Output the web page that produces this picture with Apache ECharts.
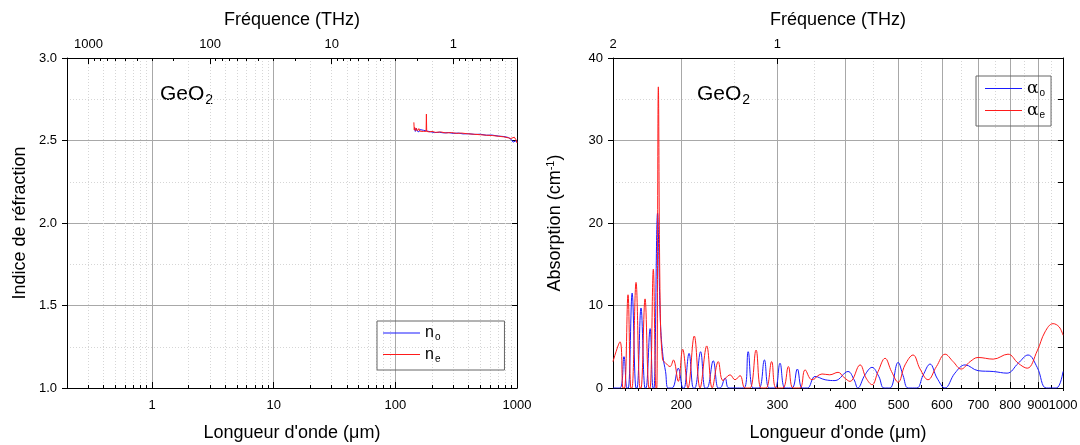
<!DOCTYPE html>
<html><head><meta charset="utf-8">
<script src="https://cdn.jsdelivr.net/npm/echarts@6/dist/echarts.min.js"></script>
<style>html,body{margin:0;padding:0;background:#fff}#c{width:1080px;height:445px}</style>
</head><body><div id="c"></div>
<script>
// ---------- data: refractive index (left panel) ----------
const lamNo = [144, 146, 148, 150, 153, 156, 160, 165, 170, 175, 180, 185, 195, 210, 230, 250, 275, 300, 330, 360, 400, 450, 500, 560, 620, 700, 780, 850, 900, 930, 960, 990, 1000];
const nO    = [2.57, 2.555, 2.575, 2.56, 2.568, 2.552, 2.566, 2.555, 2.562, 2.552, 2.558, 2.55, 2.553, 2.548, 2.55, 2.546, 2.548, 2.543, 2.545, 2.54, 2.541, 2.537, 2.538, 2.532, 2.533, 2.527, 2.524, 2.518, 2.505, 2.49, 2.485, 2.5, 2.49];
const lamNe = [142, 143, 144, 146, 149, 152, 156, 160, 165, 170, 175, 179, 180, 181, 185, 190, 200, 215, 235, 260, 290, 320, 350, 390, 440, 500, 560, 630, 700, 780, 850, 890, 920, 950, 980, 1000];
const nE    = [2.61, 2.565, 2.58, 2.56, 2.575, 2.558, 2.572, 2.556, 2.568, 2.555, 2.563, 2.556, 2.66, 2.555, 2.56, 2.552, 2.555, 2.549, 2.552, 2.546, 2.548, 2.543, 2.545, 2.541, 2.538, 2.535, 2.532, 2.53, 2.526, 2.522, 2.516, 2.512, 2.51, 2.52, 2.505, 2.485];

// ---------- data: absorption (right panel) ----------
const lamAo  = [150, 154.5, 157.1, 159.1, 160, 162.6, 165.3, 166, 168.8, 171.7, 172.4, 175.4, 177.6, 178.3, 181, 183.2, 185.2, 187.2, 189.2, 192.5, 197.5, 201.5, 202.4, 206.7, 210.5, 211.8, 217, 221.1, 223, 228.9, 233.6, 235.6, 240.7, 244.5, 260.6, 265.2, 270.7, 277.7, 284, 289.6, 297, 303.3, 309.8, 319, 326.3, 332.9, 340.5, 351.6, 366.8, 382.5, 404, 414.5, 421, 434, 447, 460, 470, 482, 499, 509.6, 520.5, 540, 554, 571, 588, 608, 634, 662, 699, 745, 790, 828, 863, 897, 932, 972, 1000];
const alphaO = [0, 0, 3.8, 0, 0, 11.5, 0, 0, 9.7, 0, 0, 7.2, 0, 0, 21.2, 8, 3.8, 2.0, 0, 0, 2.4, 0, 0, 4.2, 0, 0, 4.4, 0, 0, 3.3, 0, 0, 1.2, 0, 0, 4.4, 0, 0, 3.4, 0, 0, 3.0, 0, 0, 2.3, 0, 0, 1.4, 1.0, 0.9, 2.0, 1.0, 0, 1.6, 2.5, 1.4, 0, 0, 3.1, 1.5, 0, 0, 1.5, 2.9, 1.2, 0, 1.8, 2.8, 2.1, 2.0, 1.8, 3.0, 4.0, 2.5, 0, 0, 2.0];
const lamAe  = [150, 154.5, 156.5, 157.5, 159.8, 161.8, 162.5, 165.3, 168.1, 168.8, 171.7, 174.6, 175.4, 177.8, 179.8, 180.4, 181.6, 183, 184.8, 186.8, 190.8, 193.5, 197.5, 201.2, 205.8, 211.3, 216.5, 222.7, 227.9, 233.8, 238.5, 245.7, 250.9, 256.3, 261.7, 267.3, 274.2, 280, 286, 292.8, 298.3, 307, 314.2, 320.4, 330, 337.1, 347, 362, 374, 387.4, 397, 407.5, 425.1, 436, 447.2, 458.6, 472.3, 485.3, 499, 513.8, 531.5, 547.4, 566, 586.5, 608.3, 629.2, 650.8, 676, 699, 745, 793, 828, 860, 897, 927, 959, 984, 1000];
const alphaE = [3.2, 5.6, 0, 0, 11.3, 0, 0, 12.8, 0, 0, 10.8, 0, 0, 14.4, 0, 0, 36.5, 10, 3.5, 3.1, 2.6, 3.4, 0.8, 4.7, 0, 6.3, 0, 5.1, 0, 3.2, 0.9, 1.6, 1.0, 1.5, 0, 0, 4.6, 0, 0, 3.2, 0, 0, 2.6, 0, 0, 2.2, 1.0, 1.7, 1.6, 1.9, 1.3, 0.8, 2.8, 1.2, 0.4, 2.0, 3.6, 2.0, 0.7, 2.8, 4.0, 2.3, 1.0, 2.6, 4.1, 3.2, 2.3, 3.2, 3.7, 3.5, 4.1, 3.0, 2.4, 4.5, 6.8, 7.8, 7.4, 6.4];

// ---------- tick values ----------
const waveMajorL = [1, 10, 100, 1000];
const waveMinorL = [0.3, 0.4, 0.5, 0.6, 0.7, 0.8, 0.9, 2, 3, 4, 5, 6, 7, 8, 9, 20, 30, 40, 50, 60, 70, 80, 90, 200, 300, 400, 500, 600, 700, 800, 900];
const freqMajorL = [1, 10, 100, 1000];
const freqMinorL = [0.3, 0.4, 0.5, 0.6, 0.7, 0.8, 0.9, 2, 3, 4, 5, 6, 7, 8, 9, 20, 30, 40, 50, 60, 70, 80, 90, 200, 300, 400, 500, 600, 700, 800, 900];
const waveMajorR = [200, 300, 400, 500, 600, 700, 800, 900, 1000];
const waveLabelsR = [200, 300, 400, 500, 600, 700, 800, 900];
const waveEndLabelR = [1000];
const waveMinorR = [250, 350, 450, 550, 650, 750, 850, 950];
const freqMajorR = [2, 1];
const freqMinorR = [1.9, 1.8, 1.7, 1.6, 1.5, 1.4, 1.3, 1.2, 1.1, 0.9, 0.8, 0.7, 0.6, 0.5, 0.4, 0.3];

const FONT = 'Liberation Sans, Arial, sans-serif';
const MAJ = '#a8a8a8';
const MIN = '#d6d6d6';
const lbl = {fontSize: 13, color: '#000', fontFamily: FONT};
const nameStyle = {fontSize: 18, color: '#000', fontFamily: FONT};
const blackLine = {show: true, onZero: false, lineStyle: {color: '#000', width: 1}};

function pairs(xs, ys) { return xs.map((x, i) => [x, ys[i]]); }

function logAxis(grid, pos, min, max, major, minor, labels, subLabels, extra) {
  const margin = pos === 'top' ? 7 : 11;
  const main = Object.assign({
    gridIndex: grid, type: 'log', logBase: 10, min: min, max: max, position: pos,
    axisLine: blackLine,
    axisTick: {show: true, inside: true, length: 6, customValues: major, lineStyle: {color: '#000'}},
    axisLabel: Object.assign({show: true, customValues: labels, formatter: v => String(v),
      margin: margin, showMinLabel: true, showMaxLabel: true, hideOverlap: false}, lbl),
    splitLine: {show: false}
  }, extra || {});
  const sub = {
    gridIndex: grid, type: 'log', logBase: 10, min: min, max: max, position: pos,
    inverse: !!(extra && extra.inverse),
    axisLine: {show: false},
    axisTick: {show: true, inside: true, length: 3, customValues: minor, lineStyle: {color: '#000'}},
    axisLabel: subLabels ? Object.assign({show: true, customValues: subLabels, formatter: v => String(v),
      margin: margin, showMinLabel: true, showMaxLabel: true}, lbl) : {show: false},
    splitLine: {show: pos === 'bottom', lineStyle: {color: MIN, width: 1, type: [1, 2]}}
  };
  return [main, sub];
}

const xAxes = [].concat(
  logAxis(0, 'bottom', 0.2, 1000, waveMajorL, waveMinorL, waveMajorL, null, {
    name: "Longueur d'onde (\u03bcm)", nameLocation: 'middle', nameGap: 36, nameTextStyle: nameStyle,
    splitLine: {show: true, lineStyle: {color: MAJ, width: 1}}
  }),
  logAxis(0, 'top', 0.3, 1500, freqMajorL, freqMinorL, freqMajorL, null, {
    inverse: true, name: 'Fréquence (THz)', nameLocation: 'middle', nameGap: 29, nameTextStyle: nameStyle
  }),
  logAxis(1, 'bottom', 150, 1000, waveMajorR, waveMinorR, waveLabelsR, waveEndLabelR, {
    name: "Longueur d'onde (\u03bcm)", nameLocation: 'middle', nameGap: 36, nameTextStyle: nameStyle,
    splitLine: {show: true, lineStyle: {color: MAJ, width: 1}}
  }),
  logAxis(1, 'top', 0.3, 2, freqMajorR, freqMinorR, freqMajorR, null, {
    inverse: true, name: 'Fréquence (THz)', nameLocation: 'middle', nameGap: 29, nameTextStyle: nameStyle
  })
);

const yAxes = [
  {gridIndex: 0, type: 'value', min: 1, max: 3, interval: 0.5, position: 'left',
   name: 'Indice de réfraction', nameLocation: 'middle', nameGap: 38, nameTextStyle: nameStyle,
   axisLine: blackLine, axisTick: {show: true, inside: false, length: 5, lineStyle: {color: '#000'}},
   axisLabel: Object.assign({formatter: v => v.toFixed(1), margin: 10}, lbl),
   splitLine: {show: true, lineStyle: {color: MAJ, width: 1}},
   minorTick: {show: false, splitNumber: 2},
   minorSplitLine: {show: true, lineStyle: {color: MIN, width: 1, type: [1, 2]}}},
  {gridIndex: 0, type: 'value', min: 1, max: 3, interval: 0.5, position: 'right',
   axisLine: blackLine, axisTick: {show: true, inside: true, length: 5, lineStyle: {color: '#000'}},
   axisLabel: {show: false}, splitLine: {show: false}},
  {gridIndex: 1, type: 'value', min: 0, max: 40, interval: 10, position: 'left',
   name: 'Absorption (cm{sup|-1})', nameLocation: 'middle', nameGap: 47,
   nameTextStyle: Object.assign({rich: {sup: {fontSize: 11, color: '#000', fontFamily: FONT, padding: [0, 0, 10, 0]}}}, nameStyle),
   axisLine: blackLine, axisTick: {show: true, inside: false, length: 5, lineStyle: {color: '#000'}},
   axisLabel: Object.assign({margin: 10}, lbl),
   splitLine: {show: true, lineStyle: {color: MAJ, width: 1}},
   minorTick: {show: false, splitNumber: 2},
   minorSplitLine: {show: true, lineStyle: {color: MIN, width: 1, type: [1, 2]}}},
  {gridIndex: 1, type: 'value', min: 0, max: 40, interval: 10, position: 'right',
   axisLine: blackLine, axisTick: {show: true, inside: true, length: 5, lineStyle: {color: '#000'}},
   minorTick: {show: true, splitNumber: 2, length: 5, lineStyle: {color: '#000'}},
   axisLabel: {show: false}, splitLine: {show: false}}
];

const BLUE = '#1a1aff', RED = '#ff1a1a';
function line(name, data, xi, yi, color, smooth) {
  return {name: name, type: 'line', data: data, xAxisIndex: xi, yAxisIndex: yi, symbol: 'none',
          smooth: smooth, clip: true, lineStyle: {color: color, width: 1}, itemStyle: {color: color}};
}

const subRich = {
  b: {fontSize: 16, color: '#000', fontFamily: FONT},
  g: {fontSize: 17, color: '#000', fontFamily: 'DejaVu Serif, serif'},
  s: {fontSize: 10, color: '#000', fontFamily: FONT, padding: [9, 0, 0, 1]}
};
const subLabel = {n_o: '{b|n}{s|o}', n_e: '{b|n}{s|e}', 'α_o': '{g|\u03b1}{s|o}', 'α_e': '{g|\u03b1}{s|e}'};

const legendBase = {orient: 'vertical', icon: 'rect', itemWidth: 37, itemHeight: 1, itemGap: 4,
  borderColor: '#666', borderWidth: 1, selectedMode: false,
  formatter: n => subLabel[n], textStyle: {rich: subRich}};

const option = {
  animation: false,
  backgroundColor: '#fff',
  grid: [
    {left: 67, right: 563, top: 58, bottom: 57, containLabel: false, outerBoundsMode: 'none'},
    {left: 613, right: 17, top: 58, bottom: 57, containLabel: false, outerBoundsMode: 'none'}
  ],
  xAxis: xAxes,
  yAxis: yAxes,
  legend: [
    Object.assign({data: ['n_o', 'n_e'], left: 377, top: 321, padding: [4, 64, 6, 6]}, legendBase),
    Object.assign({data: ['α_o', 'α_e'], left: 976, top: 76, padding: [4, 6, 6, 9]}, legendBase)
  ],
  graphic: [
    {type: 'text', left: 160, top: 84, style: {text: '{a|GeO}{b|2}', rich: {
      a: {fontSize: 21, fill: '#000', fontFamily: FONT}, b: {fontSize: 14, fill: '#000', fontFamily: FONT, padding: [12, 0, 0, 1]}}}},
    {type: 'text', left: 697, top: 84, style: {text: '{a|GeO}{b|2}', rich: {
      a: {fontSize: 21, fill: '#000', fontFamily: FONT}, b: {fontSize: 14, fill: '#000', fontFamily: FONT, padding: [12, 0, 0, 1]}}}}
  ],
  series: [
    line('n_o', pairs(lamNo, nO), 0, 0, BLUE, false),
    line('n_e', pairs(lamNe, nE), 0, 0, RED, false),
    line('α_o', pairs(lamAo, alphaO), 4, 2, BLUE, 0.4),
    line('α_e', pairs(lamAe, alphaE), 4, 2, RED, 0.4)
  ]
};

const chart = echarts.init(document.getElementById('c'), null, {renderer: 'canvas'});
chart.setOption(option);
</script>
</body></html>
